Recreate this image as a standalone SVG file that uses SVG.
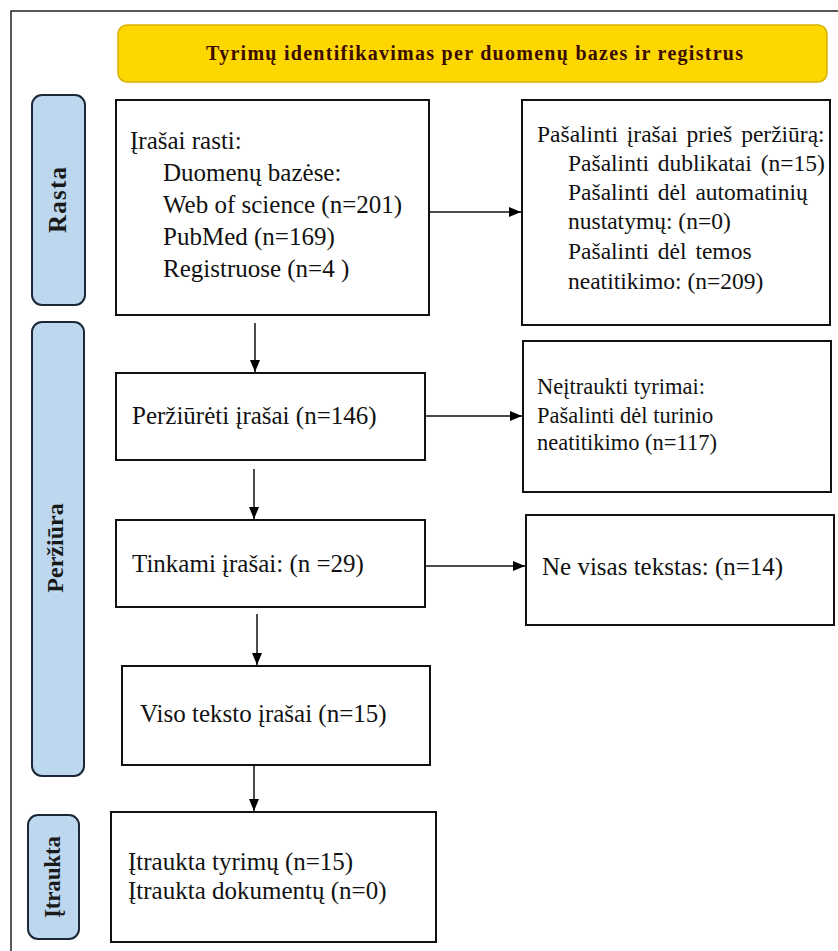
<svg xmlns="http://www.w3.org/2000/svg" width="838" height="951" viewBox="0 0 838 951">
<defs>
<marker id="ah" viewBox="0 0 12 10" refX="12" refY="5" markerWidth="12" markerHeight="10" markerUnits="userSpaceOnUse" orient="auto">
<path d="M0,0 L12,5 L0,10 z" fill="#000"/>
</marker>
<style>
.box{fill:#fff;stroke:#111;stroke-width:2}
.lane{fill:#BDD7EE;stroke:#1c2838;stroke-width:2}
.t{font-family:"Liberation Serif","Times New Roman",serif;fill:#111}
.lt{font-family:"Liberation Serif","Times New Roman",serif;font-weight:bold;fill:#1a1a1a}
.c{stroke:#111;stroke-width:1.5;fill:none;marker-end:url(#ah)}
</style>
</defs>
<rect width="838" height="951" fill="#fff"/>
<path d="M11,951 V11 H838" fill="none" stroke="#222" stroke-width="1.5"/>

<g id="banner">
<rect x="118" y="25" width="709" height="57" rx="9" fill="#FFD700" stroke="#D8B200" stroke-width="1.5"/>
<text x="206" y="60" class="t" font-weight="bold" font-size="20" textLength="537" lengthAdjust="spacing" style="fill:#3a0c00">Tyrimų identifikavimas per duomenų bazes ir registrus</text>
</g>

<g id="lane-rasta">
<rect x="32" y="95" width="53" height="210" rx="10" class="lane"/>
<text class="lt" font-size="25" transform="translate(66,200) rotate(-90)" text-anchor="middle" textLength="66" lengthAdjust="spacing">Rasta</text>
</g>
<g id="lane-perziura">
<rect x="32" y="322" width="52" height="454" rx="10" class="lane"/>
<text class="lt" font-size="24" transform="translate(63,548) rotate(-90)" text-anchor="middle">Peržiūra</text>
</g>
<g id="lane-itraukta">
<rect x="28" y="815" width="51" height="124" rx="10" class="lane"/>
<text class="lt" font-size="23" transform="translate(60,877) rotate(-90)" text-anchor="middle" textLength="82" lengthAdjust="spacing">Įtraukta</text>
</g>

<g id="n-rasti">
<rect x="116" y="100" width="313" height="215" class="box"/>
<text class="t" font-size="25" x="130" y="149">Įrašai rasti:</text>
<text class="t" font-size="25" x="163" y="181">Duomenų bazėse:</text>
<text class="t" font-size="25" x="163" y="213">Web of science (n=201)</text>
<text class="t" font-size="25" x="163" y="245">PubMed (n=169)</text>
<text class="t" font-size="25" x="163" y="277">Registruose (n=4 )</text>
</g>

<g id="n-pasalinti">
<rect x="522" y="100" width="308" height="225" class="box"/>
<text class="t" font-size="23.5" x="537" y="142" word-spacing="3">Pašalinti įrašai prieš peržiūrą:</text>
<text class="t" font-size="23.5" x="568" y="171" word-spacing="3">Pašalinti dublikatai (n=15)</text>
<text class="t" font-size="23.5" x="568" y="200" word-spacing="3">Pašalinti dėl automatinių</text>
<text class="t" font-size="23.5" x="568" y="229">nustatymų: (n=0)</text>
<text class="t" font-size="23.5" x="568" y="259" word-spacing="3">Pašalinti dėl temos</text>
<text class="t" font-size="23.5" x="568" y="289">neatitikimo: (n=209)</text>
</g>

<g id="n-perziureti">
<rect x="116" y="373" width="309" height="87" class="box"/>
<text class="t" font-size="25" x="132" y="424">Peržiūrėti įrašai (n=146)</text>
</g>

<g id="n-neitraukti">
<rect x="523" y="341" width="308" height="151" class="box"/>
<text class="t" font-size="22.5" x="537" y="394">Neįtraukti tyrimai:</text>
<text class="t" font-size="22.5" x="537" y="423">Pašalinti dėl turinio</text>
<text class="t" font-size="22.5" x="537" y="450">neatitikimo (n=117)</text>
</g>

<g id="n-tinkami">
<rect x="116" y="520" width="309" height="87" class="box"/>
<text class="t" font-size="25" x="132" y="572">Tinkami įrašai: (n =29)</text>
</g>

<g id="n-nevisas">
<rect x="526" y="515" width="308" height="110" class="box"/>
<text class="t" font-size="25" x="542" y="575">Ne visas tekstas: (n=14)</text>
</g>

<g id="n-viso">
<rect x="122" y="666" width="308" height="99" class="box"/>
<text class="t" font-size="25" x="140" y="722">Viso teksto įrašai (n=15)</text>
</g>

<g id="n-itraukta">
<rect x="111" y="812" width="325" height="130" class="box"/>
<text class="t" font-size="25" x="128" y="870">Įtraukta tyrimų (n=15)</text>
<text class="t" font-size="25" x="128" y="899">Įtraukta dokumentų (n=0)</text>
</g>

<g id="connectors">
<line class="c" x1="429" y1="212" x2="521" y2="212"/>
<line class="c" x1="255" y1="323" x2="255" y2="372"/>
<line class="c" x1="426" y1="416" x2="522" y2="416"/>
<line class="c" x1="254" y1="469" x2="254" y2="519"/>
<line class="c" x1="426" y1="566" x2="525" y2="566"/>
<line class="c" x1="257" y1="614" x2="257" y2="665"/>
<line class="c" x1="254" y1="765" x2="254" y2="811"/>
</g>
</svg>
